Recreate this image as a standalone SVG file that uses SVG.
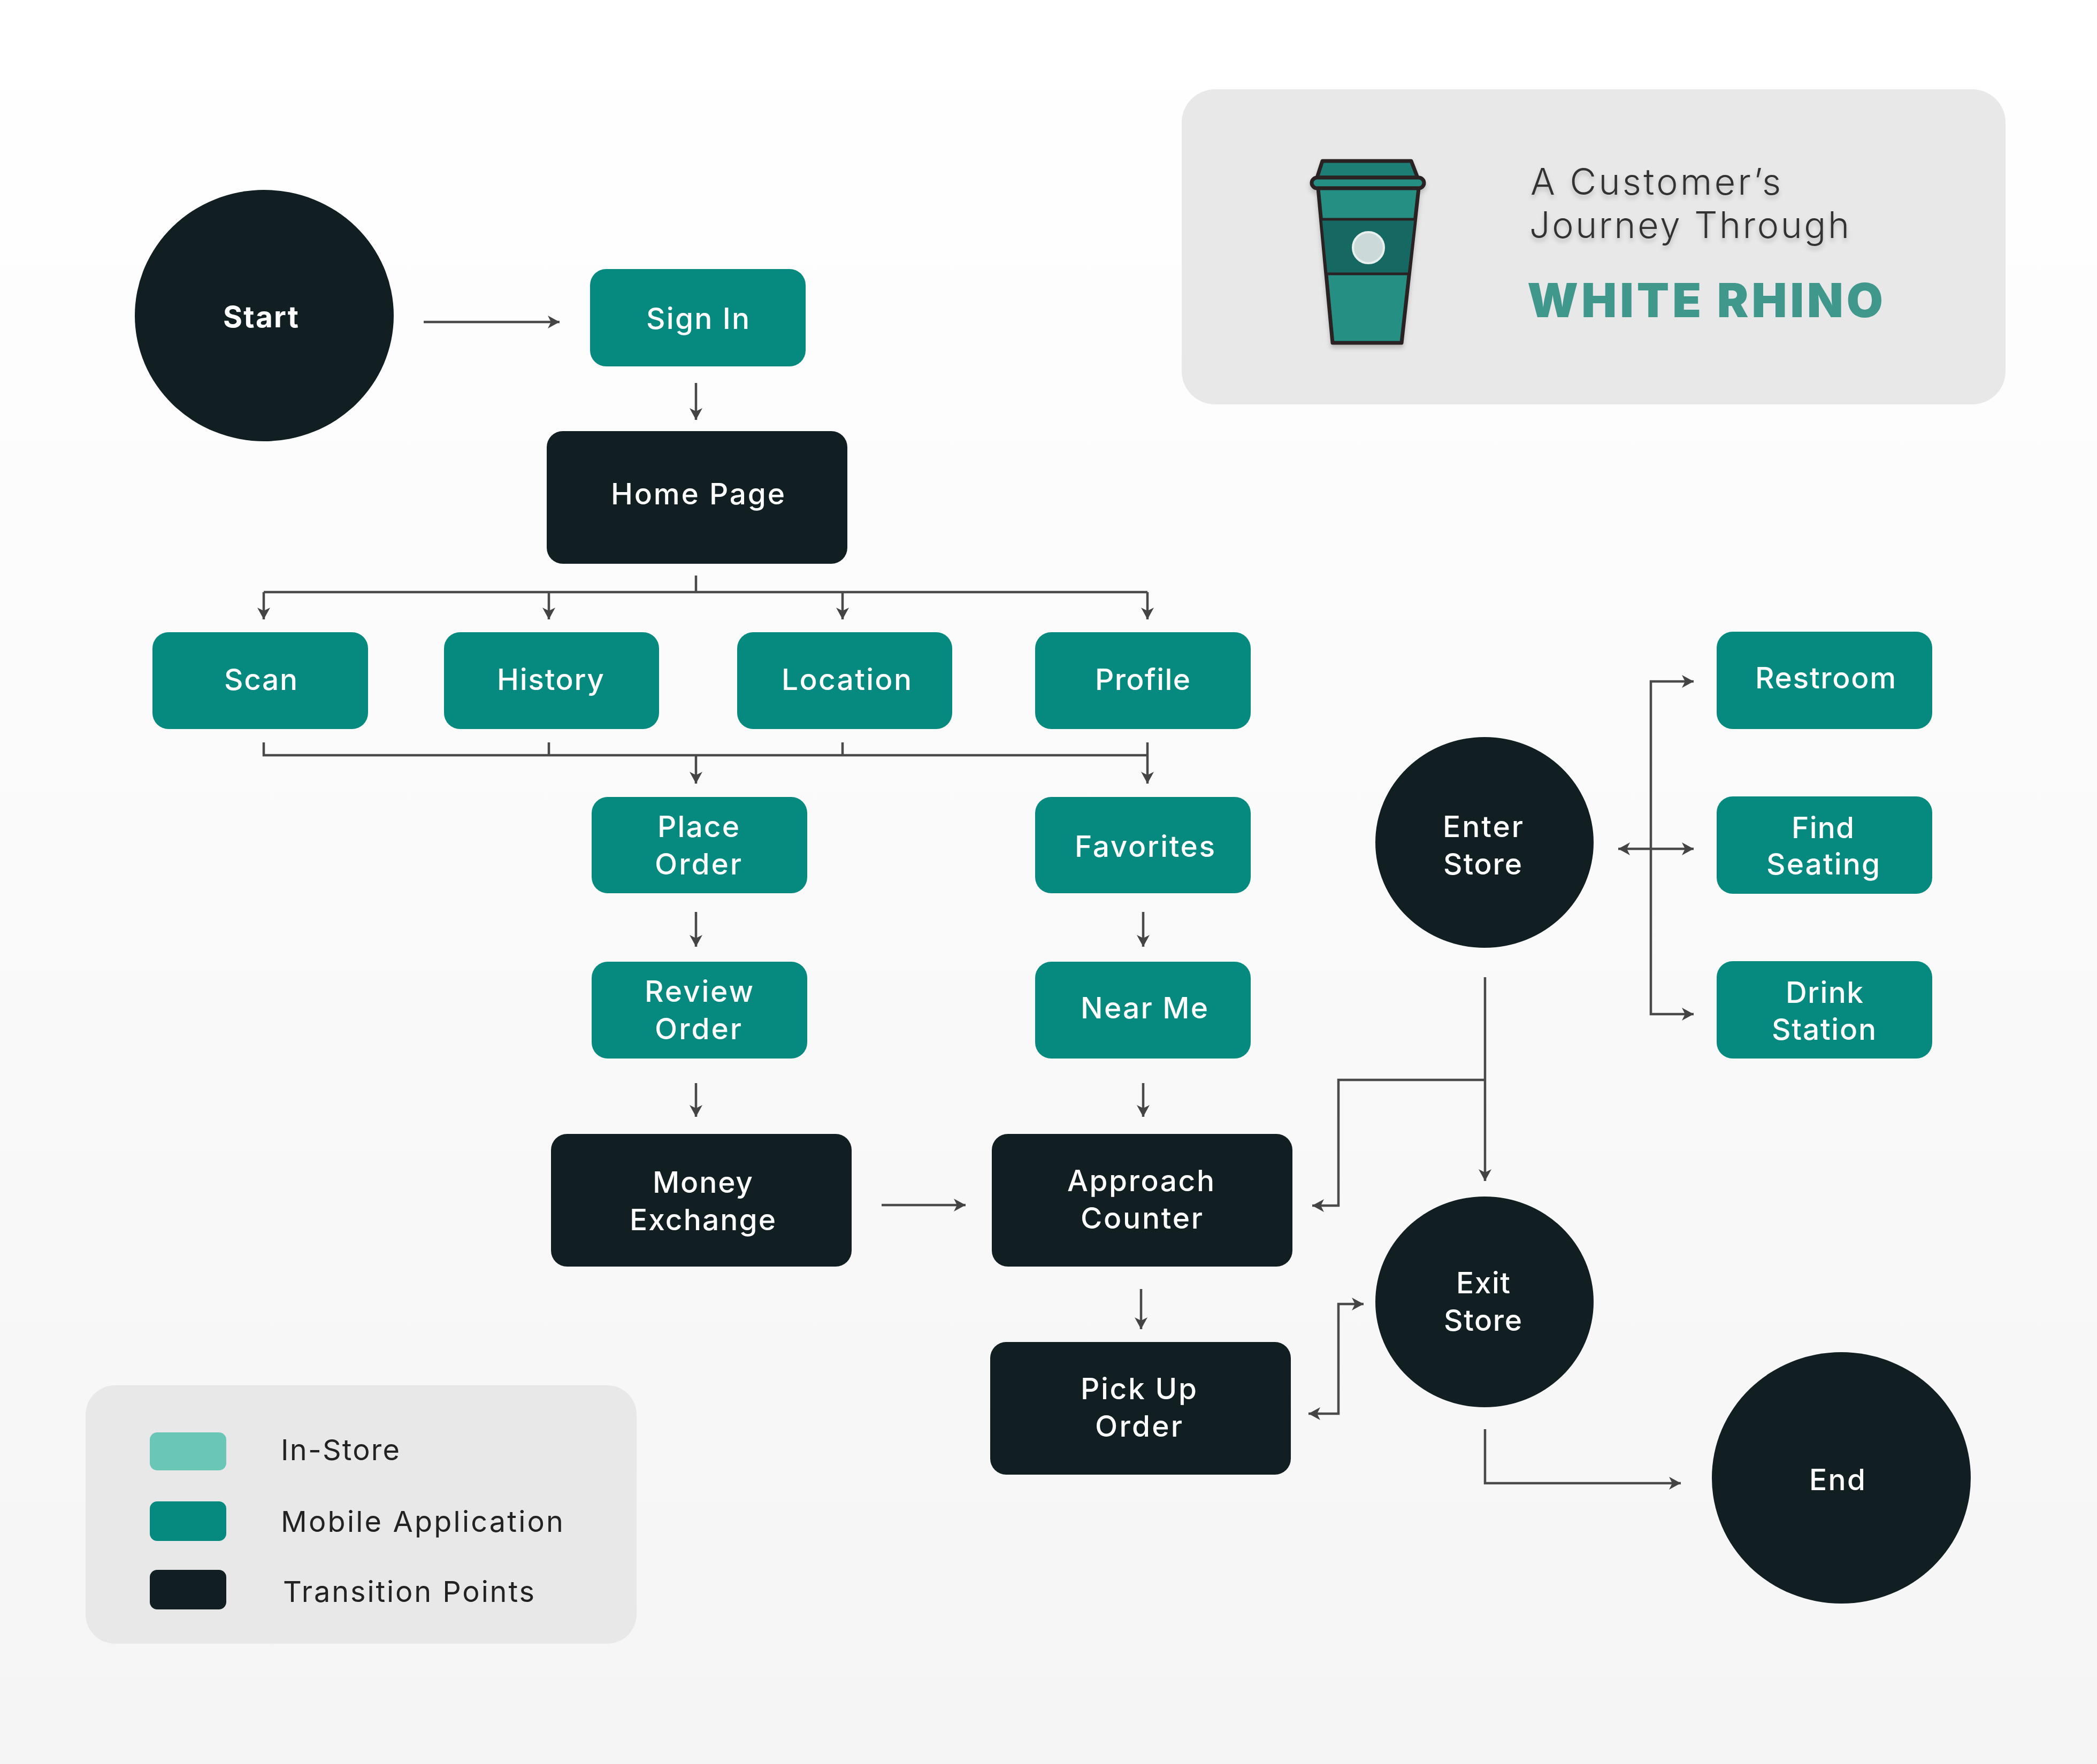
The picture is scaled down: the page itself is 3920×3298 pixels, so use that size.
<svg xmlns="http://www.w3.org/2000/svg" width="3920" height="3298" viewBox="0 0 3920 3298">
<style>
.t{fill:#068a7f}.d{fill:#111f22}.p{fill:#e8e8e8}
text{font-family:Inter,"Liberation Sans",sans-serif;font-variant-ligatures:none}
.l{font-size:55px;fill:#fff;font-weight:500}
.k{font-size:54px;fill:#222;font-weight:400}
.h{font-size:68px;fill:#333;font-weight:300}
.c{fill:none;stroke:#4a4a4a;stroke-width:4.5}
.a{marker-end:url(#ah)}
.b{marker-start:url(#ah);marker-end:url(#ah)}
.o{stroke:#2a2323;stroke-width:7;stroke-linejoin:round}
</style>
<defs>
<linearGradient id="bg" x1="0" y1="0" x2="0" y2="1"><stop offset="0" stop-color="#fff"/><stop offset="1" stop-color="#f5f5f5"/></linearGradient>
<marker id="ah" markerUnits="userSpaceOnUse" markerWidth="26" markerHeight="30" refX="23" refY="15" orient="auto-start-reverse"><path d="M23,15 L1,3 L7,15 L1,27Z" fill="#444"/></marker>
<filter id="sh" x="-10%" y="-10%" width="120%" height="120%"><feDropShadow dx="0" dy="6" stdDeviation="4" flood-color="#000" flood-opacity=".2"/></filter>
</defs>
<rect width="3920" height="3298" fill="url(#bg)"/>
<g id="title-panel">
<rect class="p" x="2209" y="167" width="1540" height="589" rx="62"/>
<g id="cup" filter="url(#sh)">
<path class="o" d="M2472,301H2638L2650,332H2462Z" fill="#1f7e75"/>
<rect class="o" x="2452" y="332" width="210" height="20" rx="10" fill="#268f84"/>
<path class="o" d="M2464,352H2652L2620,641H2491Z" fill="#268f84"/>
<path class="o" d="M2469,410H2646L2634,512H2479Z" fill="#186962" style="stroke-width:5"/>
<circle cx="2558" cy="463" r="29" fill="#cbdad8" stroke="#e8f0ee" stroke-width="4"/>
</g>
<g filter="url(#sh)">
<text class="h" x="2861" y="364" textLength="468">A Customer’s</text>
<text class="h" x="2859" y="445" textLength="598">Journey Through</text>
</g>
<text x="2855" y="593" textLength="665" style="font-size:88px;font-weight:900;fill:#40988c">WHITE RHINO</text>
</g>
<g id="connectors">
<path class="c a" d="M792,602H1046"/>
<path class="c a" d="M1301,716V785"/>
<path class="c" d="M1301,1076V1107M493,1107H2145"/>
<path class="c a" d="M493,1107V1158"/><path class="c a" d="M1026,1107V1158"/><path class="c a" d="M1575,1107V1158"/><path class="c a" d="M2145,1107V1158"/>
<path class="c" d="M493,1388V1412H2145M1026,1388V1412M1575,1388V1412"/>
<path class="c a" d="M1301,1412V1465"/><path class="c a" d="M2145,1388V1465"/>
<path class="c a" d="M1301,1705V1770"/><path class="c a" d="M1301,2025V2088"/>
<path class="c a" d="M2137,1705V1770"/><path class="c a" d="M2137,2025V2088"/>
<path class="c a" d="M1648,2253H1805"/><path class="c a" d="M2133,2410V2485"/>
<path class="c a" d="M3086,1587V1274H3166"/>
<path class="c a" d="M3086,1587V1896H3166"/>
<path class="c b" d="M3025,1587H3166"/>
<path class="c a" d="M2776,1827V2208"/>
<path class="c a" d="M2776,2019H2502V2254H2453"/>
<path class="c b" d="M2549,2438H2502V2643H2446"/>
<path class="c a" d="M2776,2672V2773H3142"/>
</g>
<g id="start"><ellipse class="d" cx="494" cy="590" rx="242" ry="235"/><text class="l" style="font-weight:700" x="417" y="612" textLength="141">Start</text></g>
<g id="sign-in"><rect class="t" x="1103" y="503" width="403" height="182" rx="30"/><text class="l" x="1208" y="615" textLength="193">Sign In</text></g>
<g id="home-page"><rect class="d" x="1022" y="806" width="562" height="248" rx="30"/><text class="l" x="1142" y="943" textLength="325">Home Page</text></g>
<g id="scan"><rect class="t" x="285" y="1182" width="403" height="181" rx="30"/><text class="l" x="419" y="1290" textLength="137">Scan</text></g>
<g id="history"><rect class="t" x="830" y="1182" width="402" height="181" rx="30"/><text class="l" x="929" y="1290" textLength="200">History</text></g>
<g id="location"><rect class="t" x="1378" y="1182" width="402" height="181" rx="30"/><text class="l" x="1461" y="1290" textLength="243">Location</text></g>
<g id="profile"><rect class="t" x="1935" y="1182" width="403" height="181" rx="30"/><text class="l" x="2047" y="1290" textLength="178">Profile</text></g>
<g id="place-order"><rect class="t" x="1106" y="1490" width="403" height="180" rx="30"/><text class="l" x="1229" y="1565" textLength="153">Place</text><text class="l" x="1224" y="1635" textLength="162">Order</text></g>
<g id="favorites"><rect class="t" x="1935" y="1490" width="403" height="180" rx="30"/><text class="l" x="2009" y="1602" textLength="262">Favorites</text></g>
<g id="review-order"><rect class="t" x="1106" y="1798" width="403" height="181" rx="30"/><text class="l" x="1205" y="1873" textLength="203">Review</text><text class="l" x="1224" y="1943" textLength="162">Order</text></g>
<g id="near-me"><rect class="t" x="1935" y="1798" width="403" height="181" rx="30"/><text class="l" x="2020" y="1904" textLength="238">Near Me</text></g>
<g id="money-exchange"><rect class="d" x="1030" y="2120" width="562" height="248" rx="30"/><text class="l" x="1220" y="2230" textLength="187">Money</text><text class="l" x="1177" y="2300" textLength="273">Exchange</text></g>
<g id="approach-counter"><rect class="d" x="1854" y="2120" width="562" height="248" rx="30"/><text class="l" x="1995" y="2227" textLength="275">Approach</text><text class="l" x="2020" y="2297" textLength="228">Counter</text></g>
<g id="pick-up-order"><rect class="d" x="1851" y="2509" width="562" height="248" rx="30"/><text class="l" x="2020" y="2616" textLength="217">Pick Up</text><text class="l" x="2047" y="2686" textLength="163">Order</text></g>
<g id="enter-store"><ellipse class="d" cx="2775" cy="1575" rx="204" ry="197"/><text class="l" x="2697" y="1565" textLength="150">Enter</text><text class="l" x="2698" y="1635" textLength="147">Store</text></g>
<g id="exit-store"><ellipse class="d" cx="2775" cy="2434" rx="204" ry="197"/><text class="l" x="2722" y="2418" textLength="101">Exit</text><text class="l" x="2699" y="2488" textLength="146">Store</text></g>
<g id="end"><ellipse class="d" cx="3442" cy="2763" rx="242" ry="235"/><text class="l" x="3382" y="2786" textLength="105">End</text></g>
<g id="restroom"><rect class="t" x="3209" y="1181" width="403" height="182" rx="30"/><text class="l" x="3281" y="1287" textLength="263">Restroom</text></g>
<g id="find-seating"><rect class="t" x="3209" y="1489" width="403" height="182" rx="30"/><text class="l" x="3349" y="1567" textLength="117">Find</text><text class="l" x="3302" y="1635" textLength="212">Seating</text></g>
<g id="drink-station"><rect class="t" x="3209" y="1797" width="403" height="182" rx="30"/><text class="l" x="3338" y="1875" textLength="145">Drink</text><text class="l" x="3312" y="1944" textLength="195">Station</text></g>
<g id="legend">
<rect class="p" x="160" y="2590" width="1030" height="483" rx="55"/>
<rect x="280" y="2678" width="143" height="71" rx="14" fill="#6ac7b8"/>
<rect class="t" x="280" y="2807" width="143" height="74" rx="14"/>
<rect class="d" x="280" y="2935" width="143" height="74" rx="14"/>
<text class="k" x="525" y="2730" textLength="222">In-Store</text>
<text class="k" x="525" y="2864" textLength="528">Mobile Application</text>
<text class="k" x="529" y="2995" textLength="470">Transition Points</text>
</g>
</svg>
